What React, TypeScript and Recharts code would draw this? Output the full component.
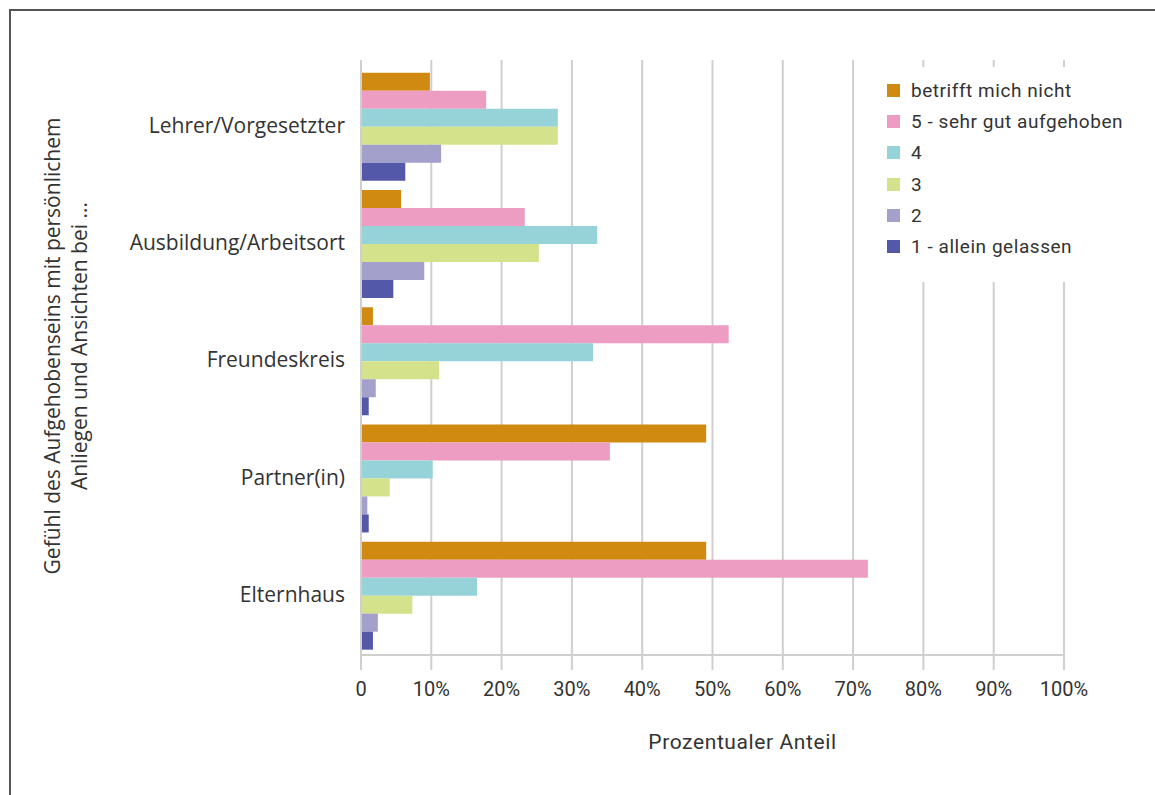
import React from 'react';
import { BarChart, Bar, XAxis, YAxis, CartesianGrid, Legend } from 'recharts';

// Gefühl des Aufgehobenseins – Anteile in Prozent
const categories = ['Lehrer/Vorgesetzter', 'Ausbildung/Arbeitsort', 'Freundeskreis', 'Partner(in)', 'Elternhaus'];

const betrifftNicht = [9.8, 5.7, 1.7, 49.1, 49.1];
const stufe5 = [17.8, 23.3, 52.3, 35.4, 72.1];
const stufe4 = [28.0, 33.6, 33.0, 10.2, 16.5];
const stufe3 = [28.0, 25.3, 11.1, 4.1, 7.3];
const stufe2 = [11.4, 9.0, 2.1, 0.9, 2.4];
const stufe1 = [6.3, 4.6, 1.1, 1.1, 1.7];

const xTicks = [0, 10, 20, 30, 40, 50, 60, 70, 80, 90, 100];

const SERIES = [
  { key: 'nicht', name: 'betrifft mich nicht', color: '#D08A12' },
  { key: 's5', name: '5 - sehr gut aufgehoben', color: '#ED9DC2' },
  { key: 's4', name: '4', color: '#96D3D9' },
  { key: 's3', name: '3', color: '#D4E28C' },
  { key: 's2', name: '2', color: '#A3A1CB' },
  { key: 's1', name: '1 - allein gelassen', color: '#5359A8' },
];

const data = categories.map((name, i) => ({
  name,
  nicht: betrifftNicht[i],
  s5: stufe5[i],
  s4: stufe4[i],
  s3: stufe3[i],
  s2: stufe2[i],
  s1: stufe1[i],
}));

const FONT_CAT = '"Open Sans", sans-serif';
const FONT = 'Roboto, sans-serif';
const TEXT = '#333';
const GRID = '#cfcfcf';

function YTitle() {
  return (
    <text
      transform="rotate(-90, 53, 346)"
      x={53}
      y={346}
      textAnchor="middle"
      fontFamily={FONT_CAT}
      fontSize={21}
      fill={TEXT}
    >
      <tspan x={53} dy="0.35em">Gefühl des Aufgehobenseins mit persönlichem</tspan>
      <tspan x={53} dy={27}>Anliegen und Ansichten bei ...</tspan>
    </text>
  );
}

function LegendBox() {
  return (
    <div
      style={{
        background: '#fff',
        padding: '8px 0 20px 17px',
        fontFamily: FONT,
        fontSize: 19,
        letterSpacing: 0.55,
        color: TEXT,
        textAlign: 'left',
      }}
    >
      {SERIES.map((s) => (
        <div key={s.key} style={{ display: 'flex', alignItems: 'center', height: 31.2 }}>
          <span style={{ display: 'inline-block', width: 13, height: 13, background: s.color, marginRight: 11 }} />
          <span>{s.name}</span>
        </div>
      ))}
    </div>
  );
}

export default function App() {
  return (
    <div style={{ position: 'absolute', left: 0, top: 0, width: 1155, height: 795, background: '#fff' }}>
      <div
        style={{
          position: 'absolute',
          left: 9,
          top: 9,
          width: 1146,
          height: 786,
          borderTop: '2px solid #555',
          borderLeft: '2px solid #555',
          boxSizing: 'border-box',
        }}
      />
      <div style={{ position: 'absolute', left: 0, top: 0 }}>
        <BarChart
          width={1155}
          height={795}
          data={data}
          layout="vertical"
          margin={{ top: 60, right: 91, bottom: 40, left: 21 }}
          barCategoryGap="5%"
          barGap={0}
        >
          <CartesianGrid horizontal={false} stroke={GRID} strokeWidth={2} />
          <XAxis
            type="number"
            domain={[0, 100]}
            ticks={xTicks}
            interval={0}
            tickFormatter={(v) => (v === 0 ? '0' : `${v}%`)}
            tickSize={15}
            tickMargin={12}
            height={100}
            axisLine={{ stroke: GRID, strokeWidth: 2 }}
            tickLine={{ stroke: GRID, strokeWidth: 2 }}
            tick={{ fontFamily: FONT, fontSize: 20, fill: TEXT }}
            label={{
              value: 'Prozentualer Anteil',
              position: 'insideBottom',
              offset: 6,
              dx: 30,
              style: { fontFamily: FONT, fontSize: 21, fill: TEXT, letterSpacing: 0.6 },
            }}
          />
          <YAxis
            type="category"
            dataKey="name"
            width={340}
            padding={{ top: 7, bottom: 2 }}
            axisLine={{ stroke: GRID, strokeWidth: 2 }}
            tickLine={false}
            tickMargin={10}
            tick={{ fontFamily: FONT_CAT, fontSize: 21, fill: TEXT }}
            label={<YTitle />}
          />
          <Legend
            layout="vertical"
            align="center"
            verticalAlign="middle"
            content={<LegendBox />}
            wrapperStyle={{ left: 870, top: 67, width: 275 }}
          />
          {SERIES.map((s) => (
            <Bar key={s.key} dataKey={s.key} name={s.name} fill={s.color} isAnimationActive={false} />
          ))}
        </BarChart>
      </div>
    </div>
  );
}
